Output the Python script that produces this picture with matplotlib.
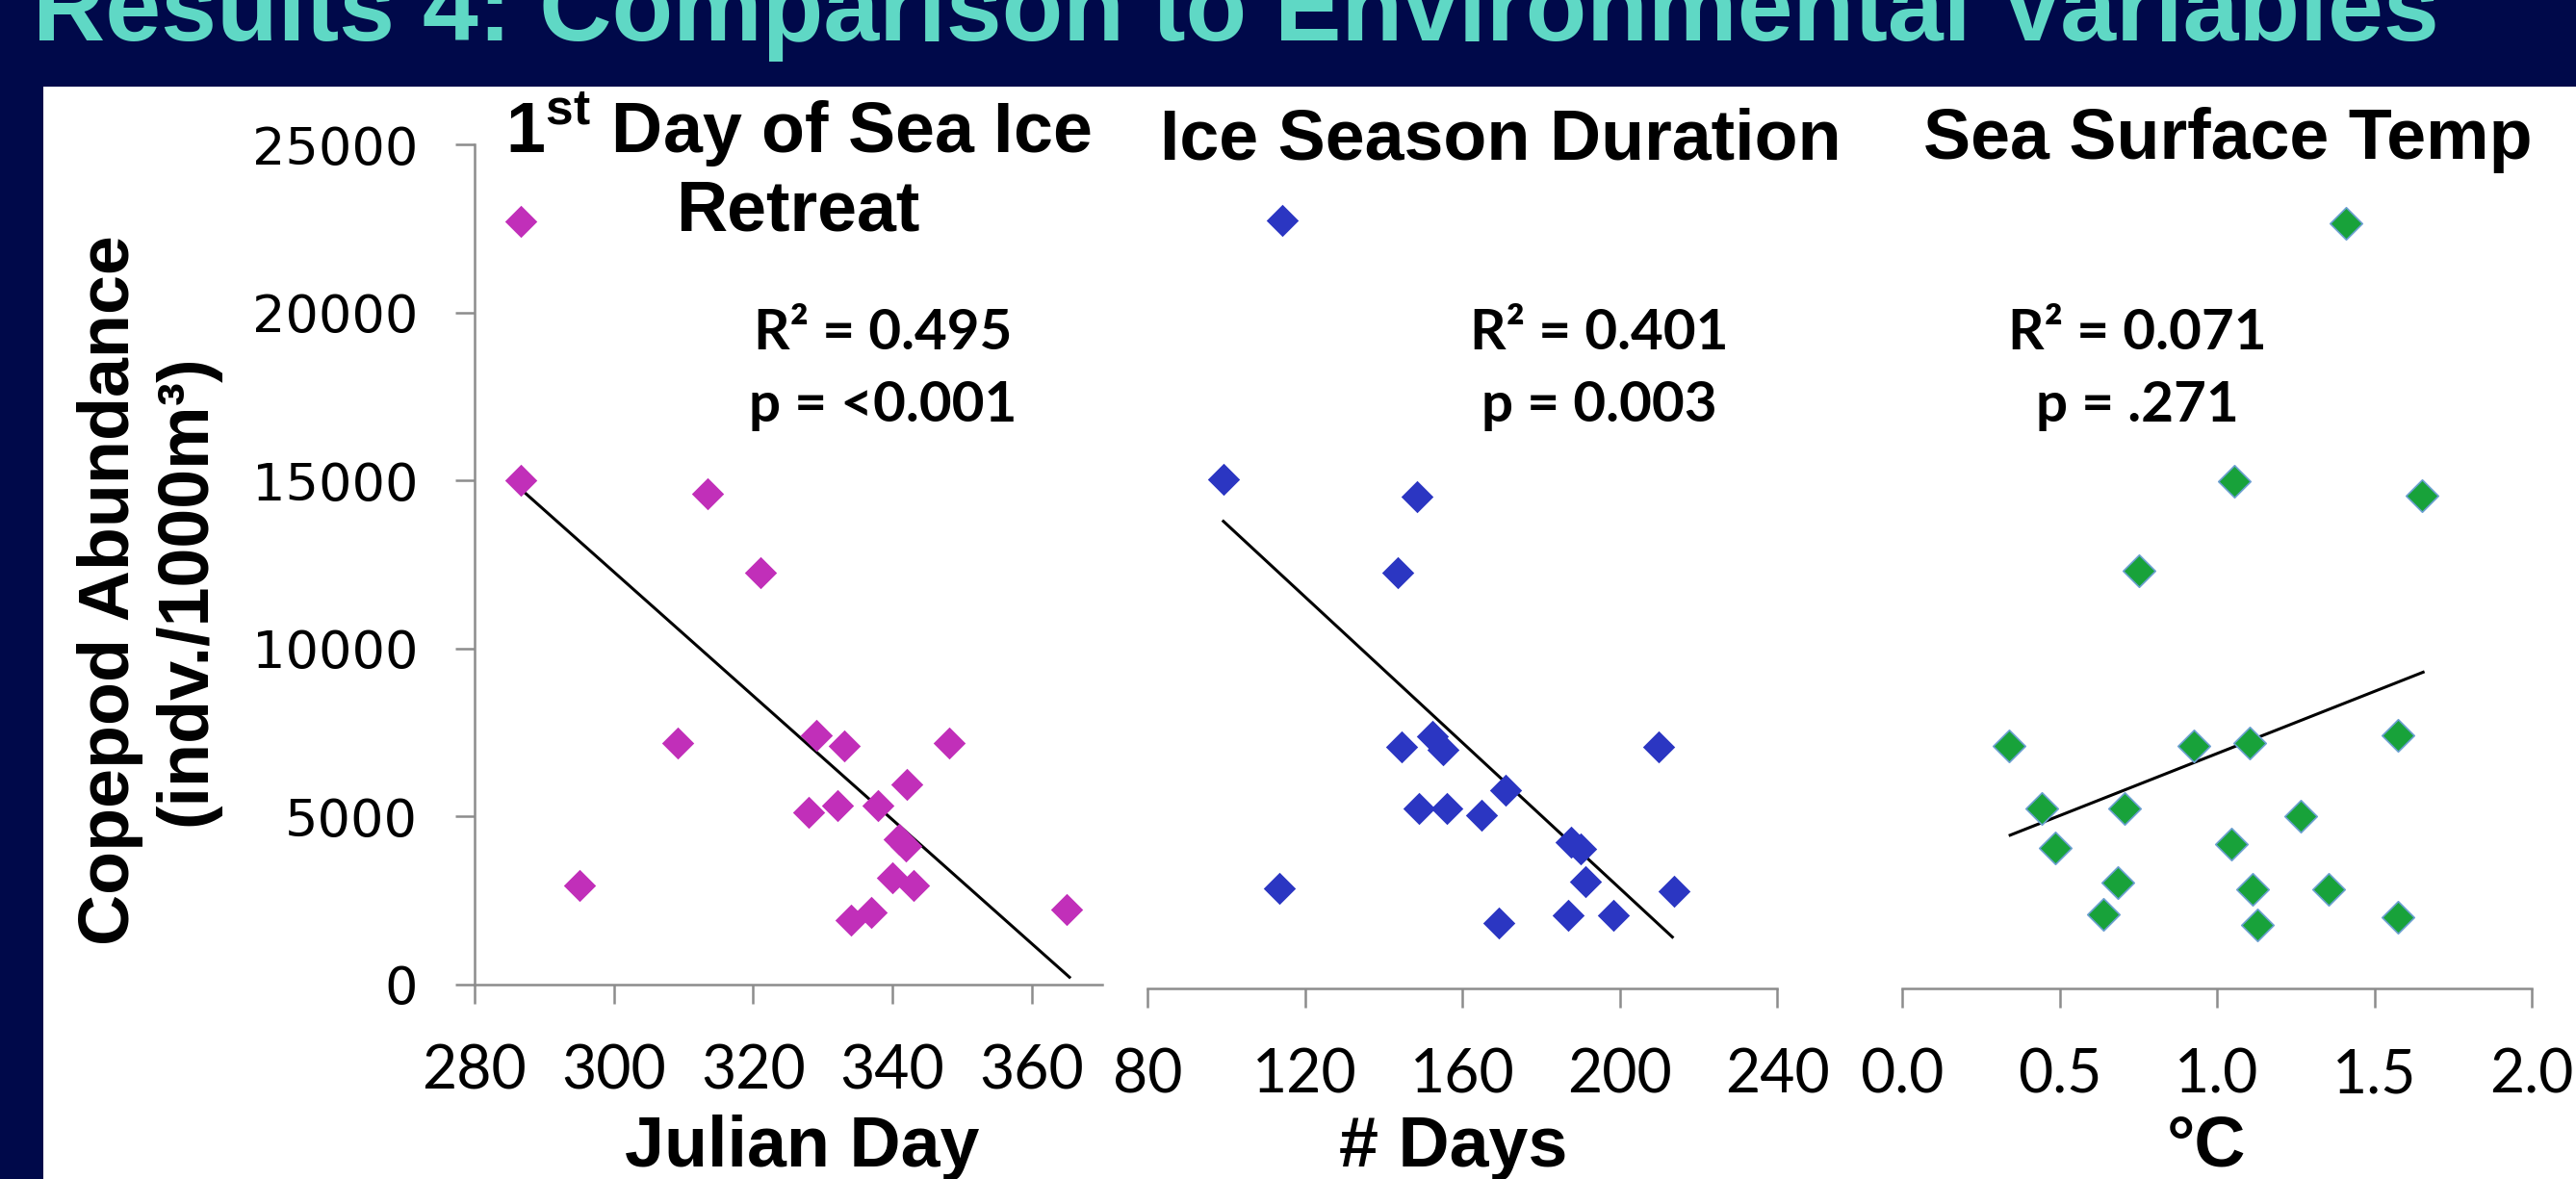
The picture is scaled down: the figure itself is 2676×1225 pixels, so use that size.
import matplotlib
matplotlib.use('Agg')
import matplotlib.pyplot as plt
from matplotlib.patches import Rectangle

# Dados (abundância de copépodes, indv./1000m3)
julian_day = [286.7, 286.7, 313.5, 321.0, 309.1, 329.0, 333.1, 348.1, 342.0, 328.0,
              332.1, 337.9, 340.9, 341.9, 295.1, 340.0, 343.0, 334.0, 337.0, 365.0]
abund_julian = [22700, 15000, 14600, 12250, 7190, 7410, 7090, 7190, 5970, 5140,
                5340, 5340, 4330, 4130, 2950, 3180, 2950, 1930, 2150, 2230]

ice_days = [114.2, 99.3, 148.5, 143.7, 144.5, 152.3, 155.1, 210.0, 171.1, 148.9,
            156.0, 164.9, 187.6, 190.1, 191.3, 113.6, 213.8, 187.0, 198.4, 169.2]
abund_days = [22860, 15160, 14640, 12370, 7200, 7500, 7100, 7200, 5900, 5350,
              5350, 5150, 4340, 4140, 3190, 2990, 2890, 2190, 2190, 1940]

sst = [1.41, 1.054, 1.652, 0.752, 0.340, 0.926, 1.104, 1.576, 0.442, 0.706,
       1.266, 0.487, 1.047, 0.684, 1.112, 1.354, 0.638, 1.127, 1.576]
abund_sst = [22760, 15080, 14650, 12430, 7210, 7210, 7300, 7520, 5350, 5350,
             5120, 4190, 4290, 3140, 2950, 2950, 2210, 1900, 2110]

# Linhas de tendência (extremos)
trend_julian_x = [286.7, 365.4]
trend_julian_y = [14730, 220]
trend_days_x = [99.3, 213.4]
trend_days_y = [13900, 1530]
trend_sst_x = [0.343, 1.655]
trend_sst_y = [4560, 9410]

# Eixos e rótulos
y_ticks = [0, 5000, 10000, 15000, 20000, 25000]
julian_ticks = [280, 300, 320, 340, 360]
days_ticks = [80, 120, 160, 200, 240]
sst_ticks = [0.0, 0.5, 1.0, 1.5, 2.0]
sst_labels = ['0.0', '0.5', '1.0', '1.5', '2.0']
stats = [('R² = 0.495', 'p = <0.001'), ('R² = 0.401', 'p = 0.003'), ('R² = 0.071', 'p = .271')]

plt.rcParams['mathtext.fontset'] = 'custom'
plt.rcParams['mathtext.rm'] = 'Liberation Sans'
plt.rcParams['mathtext.bf'] = 'Liberation Sans:bold'

W, H = 2676, 1225
fig = plt.figure(figsize=(W / 100, H / 100), dpi=100)
fig.patch.set_facecolor('#00094A')
# painel branco atrás dos gráficos
fig.patches.append(Rectangle((45 / W, 0), 1, 1 - 90 / H, transform=fig.transFigure,
                             facecolor='white', edgecolor='none', zorder=-1))

gray = '#8C8C8C'


def make_axes(left, right, bottom, top):
    ax = fig.add_axes([left / W, 1 - bottom / H, (right - left) / W, (bottom - top) / H])
    ax.set_facecolor('none')
    for s in ['top', 'right']:
        ax.spines[s].set_visible(False)
    for s in ['left', 'bottom']:
        ax.spines[s].set_color(gray)
        ax.spines[s].set_linewidth(1.8)
    ax.tick_params(direction='out', length=14.4, width=1.8, color=gray)
    ax.tick_params(axis='x', pad=30)
    ax.tick_params(axis='y', pad=28)
    ax.set_ylim(0, 25000)
    return ax


ax1 = make_axes(493, 1145, 1023, 150)
ax2 = make_axes(1192, 1846, 1027, 154)
ax3 = make_axes(1976, 2630, 1027, 154)

ax1.set_xlim(280, 370.1)
ax2.set_xlim(80, 240)
ax3.set_xlim(0, 2)

ax1.set_yticks(y_ticks)
ax1.set_yticklabels([str(v) for v in y_ticks], fontfamily='DejaVu Sans', fontsize=39)
for ax in [ax2, ax3]:
    ax.spines['left'].set_visible(False)
    ax.set_yticks([])

ax1.set_xticks(julian_ticks)
ax1.set_xticklabels([str(v) for v in julian_ticks], fontfamily='Lato', fontsize=45)
ax2.set_xticks(days_ticks)
ax2.set_xticklabels([str(v) for v in days_ticks], fontfamily='Lato', fontsize=45)
ax3.set_xticks(sst_ticks)
ax3.set_xticklabels(sst_labels, fontfamily='Lato', fontsize=45)

# Pontos
ax1.scatter(julian_day, abund_julian, marker='D', s=290, color='#C12FB9', linewidths=0, clip_on=False, zorder=3)
ax2.scatter(ice_days, abund_days, marker='D', s=290, color='#2B36C2', linewidths=0, clip_on=False, zorder=3)
ax3.scatter(sst, abund_sst, marker='D', s=290, facecolor='#18A23A', edgecolors='#6A9FD0', linewidths=1.2,
            clip_on=False, zorder=3)

# Tendências
ax1.plot(trend_julian_x, trend_julian_y, color='black', lw=2.2, zorder=2)
ax2.plot(trend_days_x, trend_days_y, color='black', lw=2.2, zorder=2)
ax3.plot(trend_sst_x, trend_sst_y, color='black', lw=2.2, zorder=2)

# Estatísticas
for ax, xf, (r2, p) in zip([ax1, ax2, ax3], [0.650, 0.717, 0.373], stats):
    bottom = 1023 if ax is ax1 else 1027
    ax.text(xf, (bottom - 363) / 873, r2, transform=ax.transAxes, ha='center', va='baseline',
            fontfamily='Lato', fontweight='bold', fontsize=42)
    ax.text(xf, (bottom - 438) / 873, p, transform=ax.transAxes, ha='center', va='baseline',
            fontfamily='Lato', fontweight='bold', fontsize=42)

# Títulos dos painéis
title_kw = dict(fontfamily='Liberation Sans', fontweight='bold', fontsize=53, ha='center', va='baseline')
fig.text(829 / W, 1 - 158 / H, r'1$^{\mathbf{st}}$ Day of Sea Ice', **title_kw)
fig.text(829 / W, 1 - 239 / H, 'Retreat', **title_kw)
fig.text(1559 / W, 1 - 165 / H, 'Ice Season Duration', **title_kw)
fig.text(2314 / W, 1 - 165 / H, 'Sea Surface Temp', **title_kw)

# Rótulos dos eixos
fig.text(833 / W, 1 - 1212 / H, 'Julian Day', **title_kw)
fig.text(1510 / W, 1 - 1212 / H, '# Days', **title_kw)
fig.text(2292 / W, 1 - 1212 / H, '°C', **title_kw)
fig.text(154 / W, 1 - 613 / H, 'Copepod Abundance\n(indv./1000m³)', rotation=90,
         fontfamily='Liberation Sans', fontweight='bold', fontsize=53, ha='center', va='center',
         multialignment='center', linespacing=1.2)

# Título do slide (cortado no topo)
fig.text(34 / W, 1 - 42 / H, 'Results 4: Comparison to Environmental Variables', color='#5FD8C5',
         fontfamily='Liberation Sans', fontweight='bold', fontsize=75, va='baseline')

plt.savefig('out.png', dpi=100, facecolor=fig.get_facecolor())
